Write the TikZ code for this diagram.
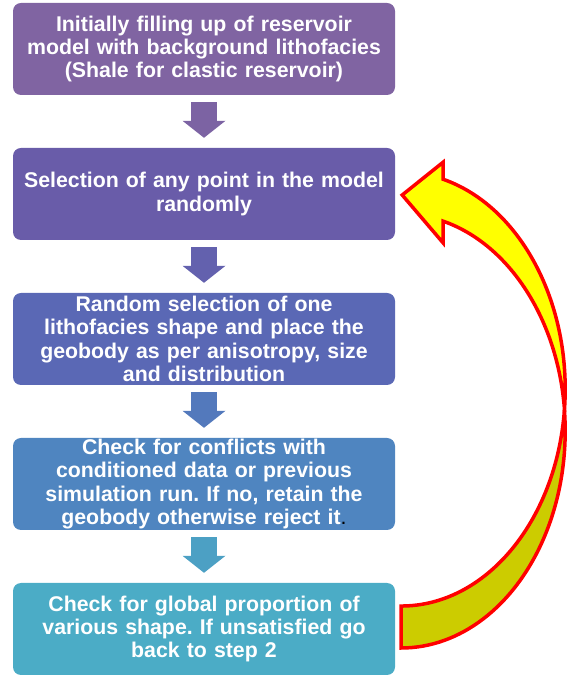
\documentclass[tikz,border=0pt]{standalone}
\usepackage{fontspec}
\setmainfont{Liberation Sans}
\usetikzlibrary{arrows.meta,calc}
\frenchspacing

\definecolor{cone}{HTML}{8064A2}
\definecolor{ctwo}{HTML}{695CA9}
\definecolor{cthree}{HTML}{5A68B5}
\definecolor{cfour}{HTML}{4F85C0}
\definecolor{cfive}{HTML}{4BACC6}
\definecolor{loopdark}{HTML}{CCCC00}
\definecolor{looplight}{HTML}{FFFF00}

\tikzset{
  stepbox/.style={rounded corners=8pt, minimum width=382pt, minimum height=92pt,
    text width=380pt, inner sep=1pt, align=center, text=white,
    font=\fontsize{21.3}{23.3}\selectfont\bfseries},
  flow/.style={line width=26pt, -{Triangle[width=43pt,length=17pt,line width=0pt]},
    shorten <=7pt, shorten >=10pt},
  loopline/.style={draw=red, line width=3.5pt}
}

\begin{document}
\begin{tikzpicture}[x=1pt,y=1pt]
  \useasboundingbox (0,0) rectangle (566,675);
  % Steps of the simulation
  \path (204,626) node[stepbox,fill=cone] (b1) {Initially filling up of reservoir\\model with background lithofacies\\(Shale for clastic reservoir)};
  \path (204,481) node[stepbox,fill=ctwo] (b2) {Selection of any point in the model\\randomly};
  \path (204,336) node[stepbox,fill=cthree] (b3) {Random selection of one\\lithofacies shape and place the\\geobody as per anisotropy, size\\and distribution};
  \path (204,191) node[stepbox,fill=cfour] (b4) {Check for conflicts with\\conditioned data or previous\\simulation run. If no, retain the\\geobody otherwise reject it{\mdseries\color{black}.}};
  \path (204,46) node[stepbox,fill=cfive] (b5) {Check for global proportion of\\various shape. If unsatisfied go\\back to step 2};
  % Block arrows between the steps
  \draw[flow,cone!85!ctwo] (b1.south) -- (b2.north);
  \draw[flow,ctwo!60!cthree] (b2.south) -- (b3.north);
  \draw[flow,cthree!40!cfour] (b3.south) -- (b4.north);
  \draw[flow,cfour!30!cfive] (b4.south) -- (b5.north);
  % Loop back from the last step to step 2
  \coordinate (tail) at ($(b5.east)+(6,-19)$);
  \coordinate (head) at ($(b2.east)+(7,-1)$);
  \coordinate (twist) at ($(tail)+(0,217)+(5.55:164 and 217)$);
  \filldraw[loopline,fill=loopdark] (tail) arc[start angle=-90,end angle=5.55,x radius=164pt,y radius=217pt]
    arc[start angle=-5.55,end angle=-90,x radius=164pt,y radius=217pt] -- cycle;
  \filldraw[loopline,fill=looplight] (twist) arc[start angle=-5.55,end angle=75.2,x radius=164pt,y radius=217pt]
    -- ++(0,17) -- (head) -- ++(41,-48) -- ++(0,21.8)
    arc[start angle=75.2,end angle=5.55,x radius=164pt,y radius=217pt] -- cycle;
\end{tikzpicture}
\end{document}
